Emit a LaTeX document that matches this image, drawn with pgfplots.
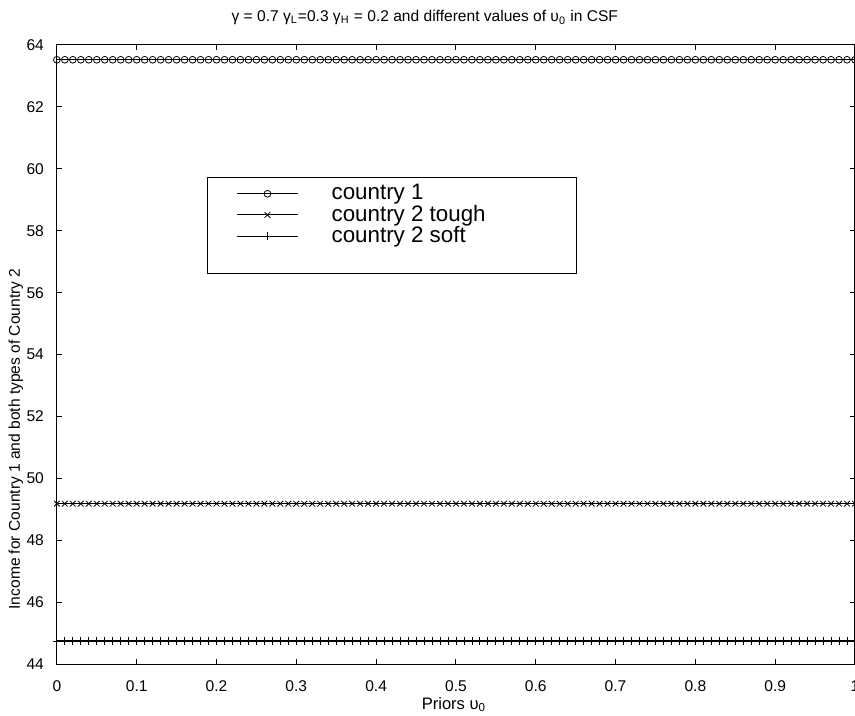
\documentclass[border=0pt]{standalone}
\usepackage{fontspec}
\setmainfont{Liberation Sans}
\usepackage{pgfplots}
\pgfplotsset{compat=1.18}
\usepackage{pgfplotstable}
\pgfplotstableread{
x c1 tough soft
0.00 63.52 49.19 44.76
0.01 63.52 49.19 44.76
0.02 63.52 49.19 44.76
0.03 63.52 49.19 44.76
0.04 63.52 49.19 44.76
0.05 63.52 49.19 44.76
0.06 63.52 49.19 44.76
0.07 63.52 49.19 44.76
0.08 63.52 49.19 44.76
0.09 63.52 49.19 44.76
0.10 63.52 49.19 44.76
0.11 63.52 49.19 44.76
0.12 63.52 49.19 44.76
0.13 63.52 49.19 44.76
0.14 63.52 49.19 44.76
0.15 63.52 49.19 44.76
0.16 63.52 49.19 44.76
0.17 63.52 49.19 44.76
0.18 63.52 49.19 44.76
0.19 63.52 49.19 44.76
0.20 63.52 49.19 44.76
0.21 63.52 49.19 44.76
0.22 63.52 49.19 44.76
0.23 63.52 49.19 44.76
0.24 63.52 49.19 44.76
0.25 63.52 49.19 44.76
0.26 63.52 49.19 44.76
0.27 63.52 49.19 44.76
0.28 63.52 49.19 44.76
0.29 63.52 49.19 44.76
0.30 63.52 49.19 44.76
0.31 63.52 49.19 44.76
0.32 63.52 49.19 44.76
0.33 63.52 49.19 44.76
0.34 63.52 49.19 44.76
0.35 63.52 49.19 44.76
0.36 63.52 49.19 44.76
0.37 63.52 49.19 44.76
0.38 63.52 49.19 44.76
0.39 63.52 49.19 44.76
0.40 63.52 49.19 44.76
0.41 63.52 49.19 44.76
0.42 63.52 49.19 44.76
0.43 63.52 49.19 44.76
0.44 63.52 49.19 44.76
0.45 63.52 49.19 44.76
0.46 63.52 49.19 44.76
0.47 63.52 49.19 44.76
0.48 63.52 49.19 44.76
0.49 63.52 49.19 44.76
0.50 63.52 49.19 44.76
0.51 63.52 49.19 44.76
0.52 63.52 49.19 44.76
0.53 63.52 49.19 44.76
0.54 63.52 49.19 44.76
0.55 63.52 49.19 44.76
0.56 63.52 49.19 44.76
0.57 63.52 49.19 44.76
0.58 63.52 49.19 44.76
0.59 63.52 49.19 44.76
0.60 63.52 49.19 44.76
0.61 63.52 49.19 44.76
0.62 63.52 49.19 44.76
0.63 63.52 49.19 44.76
0.64 63.52 49.19 44.76
0.65 63.52 49.19 44.76
0.66 63.52 49.19 44.76
0.67 63.52 49.19 44.76
0.68 63.52 49.19 44.76
0.69 63.52 49.19 44.76
0.70 63.52 49.19 44.76
0.71 63.52 49.19 44.76
0.72 63.52 49.19 44.76
0.73 63.52 49.19 44.76
0.74 63.52 49.19 44.76
0.75 63.52 49.19 44.76
0.76 63.52 49.19 44.76
0.77 63.52 49.19 44.76
0.78 63.52 49.19 44.76
0.79 63.52 49.19 44.76
0.80 63.52 49.19 44.76
0.81 63.52 49.19 44.76
0.82 63.52 49.19 44.76
0.83 63.52 49.19 44.76
0.84 63.52 49.19 44.76
0.85 63.52 49.19 44.76
0.86 63.52 49.19 44.76
0.87 63.52 49.19 44.76
0.88 63.52 49.19 44.76
0.89 63.52 49.19 44.76
0.90 63.52 49.19 44.76
0.91 63.52 49.19 44.76
0.92 63.52 49.19 44.76
0.93 63.52 49.19 44.76
0.94 63.52 49.19 44.76
0.95 63.52 49.19 44.76
0.96 63.52 49.19 44.76
0.97 63.52 49.19 44.76
0.98 63.52 49.19 44.76
0.99 63.52 49.19 44.76
1.00 63.52 49.19 44.76
}\data
\begin{document}
\begin{tikzpicture}
\begin{axis}[
  scale only axis, width=400pt, height=310.5pt,
  xmin=0, xmax=1, ymin=44, ymax=64,
  xtick={0,0.1,0.2,0.3,0.4,0.5,0.6,0.7,0.8,0.9,1},
  xticklabels={0,0.1,0.2,0.3,0.4,0.5,0.6,0.7,0.8,0.9,1},
  ytick={44,46,48,50,52,54,56,58,60,62,64},
  yticklabels={44,46,48,50,52,54,56,58,60,62,64},
  tick align=inside, major tick length=2.5pt,
  tick style={black, line width=0.5pt},
  axis line style={line width=0.6pt},
  /pgf/number format/assume math mode=true,
  tick label style={font=\fontsize{7.8}{8}\selectfont},
  xticklabel style={yshift=-4.5pt},
  yticklabel style={xshift=-3pt},
  title={γ = 0.7 γ\textsubscript{L}=0.3 γ\textsubscript{H} = 0.2 and different values of υ\textsubscript{0} in CSF},
  title style={font=\fontsize{7.8}{8}\selectfont, anchor=base, at={(axis description cs:0.461,1)}, yshift=5.5pt},
  xlabel={Priors υ\textsubscript{0}},
  xlabel style={font=\fontsize{8.3}{9}\selectfont, anchor=base, at={(axis description cs:0.4975,0)}, yshift=-22.5pt},
  ylabel={Income for Country 1 and both types of Country 2},
  ylabel style={font=\fontsize{7.8}{8}\selectfont, anchor=base, at={(axis description cs:0,0.364)}, yshift=18.5pt},
  legend style={at={(axis description cs:0.1875,0.7874)}, anchor=north west,
    draw=black, line width=0.6pt, font=\fontsize{11.2}{12}\selectfont,
    inner xsep=0pt, inner ysep=3pt, row sep=0pt,
    nodes={inner sep=0.4pt, text depth=1.8pt, text height=8pt, anchor=west}},
  legend cell align=left,
  legend image code/.code={
    \path[draw=none] (-15pt,0) -- (47pt,0);
    \draw[mark repeat=2,mark phase=2] plot coordinates {(0pt,0pt) (15.25pt,0pt) (30.5pt,0pt)};
  },
]
\addplot[black, line width=0.5pt, mark=o, mark size=1.7pt, mark options={line width=0.4pt}] table[x=x,y=c1] {\data};
\addlegendentry{country 1}
\addplot[black, line width=0.5pt, mark=x, mark size=2pt, mark options={line width=0.4pt}] table[x=x,y=tough] {\data};
\addlegendentry{country 2 tough\hspace*{45pt}}
\addplot[black, line width=0.5pt, mark=+, mark size=2pt, mark options={line width=0.4pt}] table[x=x,y=soft] {\data};
\addlegendentry{country 2 soft}
\addlegendimage{empty legend}
\addlegendentry{}
\end{axis}
\pgfresetboundingbox
\path ([xshift=-28.5pt,yshift=-25.5pt]current axis.south west) rectangle ([yshift=22.5pt]current axis.north east);
\end{tikzpicture}
\end{document}
